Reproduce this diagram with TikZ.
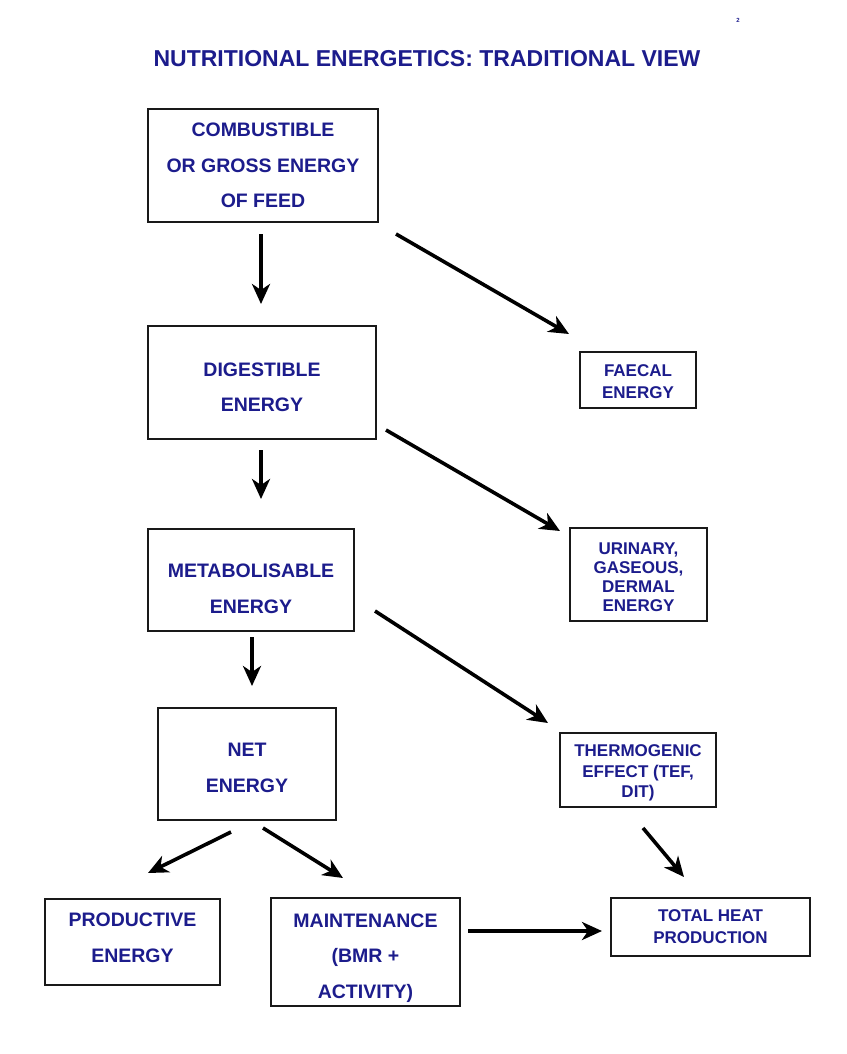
\documentclass[tikz,border=0pt]{standalone}
\usepackage{fontspec}
\setmainfont{Liberation Sans}
\usetikzlibrary{arrows.meta}
\definecolor{navy}{RGB}{28,28,140}
\tikzset{
  box/.style={draw=black!90, line width=2.7pt, fill=white, inner sep=0pt},
  bigtxt/.style={align=center, text=navy, inner sep=0pt, font=\fontsize{19.5}{35.5}\selectfont\bfseries},
  smalltxt/.style={align=center, text=navy, inner sep=0pt, font=\fontsize{17}{20.5}\selectfont\bfseries},
  flow/.style={line width=3.6pt, -{Stealth[length=20pt, width=18pt, inset=6pt]}}
}
\begin{document}
\begin{tikzpicture}[x=1pt, y=-1pt]
\useasboundingbox (0,0) rectangle (846,1054);
\node[text=navy, font=\fontsize{6}{7}\selectfont\bfseries] (pg) at (738,20) {2};
\node[text=navy, font=\fontsize{23}{27}\selectfont\bfseries] (title) at (427,58.5) {NUTRITIONAL ENERGETICS: TRADITIONAL VIEW};

\node[box, minimum width=230pt, minimum height=113pt] (gross) at (263,165.5) {};
\node[bigtxt] (grosst) at (gross.center) {COMBUSTIBLE\\OR GROSS ENERGY\\OF FEED};
\node[box, minimum width=228pt, minimum height=113pt] (dig) at (262,382.5) {};
\node[bigtxt, yshift=-5pt] (digt) at (dig.center) {DIGESTIBLE\\ENERGY};
\node[box, minimum width=206pt, minimum height=102pt] (met) at (251,580) {};
\node[bigtxt, yshift=-9pt] (mett) at (met.center) {METABOLISABLE\\ENERGY};
\node[box, minimum width=178pt, minimum height=112pt] (net) at (247,764) {};
\node[bigtxt, yshift=-4pt] (nett) at (net.center) {NET\\ENERGY};
\node[box, minimum width=175pt, minimum height=86pt] (prod) at (132.5,942) {};
\node[bigtxt, yshift=4pt] (prodt) at (prod.center) {PRODUCTIVE\\ENERGY};
\node[box, minimum width=189pt, minimum height=108pt] (maint) at (365.5,952) {};
\node[bigtxt, yshift=-6pt] (maintt) at (maint.center) {MAINTENANCE\\(BMR +\\ACTIVITY)};

\node[box, minimum width=116pt, minimum height=56pt] (faecal) at (638,380) {};
\node[smalltxt, yshift=-2pt, font=\fontsize{17}{22}\selectfont\bfseries] (faecalt) at (faecal.center) {FAECAL\\ENERGY};
\node[box, minimum width=137pt, minimum height=93pt] (urin) at (638.5,574.5) {};
\node[smalltxt, yshift=-2.5pt, font=\fontsize{17}{19}\selectfont\bfseries] (urint) at (urin.center) {URINARY,\\GASEOUS,\\DERMAL\\ENERGY};
\node[box, minimum width=156pt, minimum height=74pt] (thermo) at (638,770) {};
\node[smalltxt, yshift=-3pt] (thermot) at (thermo.center) {THERMOGENIC\\EFFECT (TEF,\\DIT)};
\node[box, minimum width=199pt, minimum height=58pt] (heat) at (710.5,927) {};
\node[smalltxt, font=\fontsize{17}{22}\selectfont\bfseries] (heatt) at (heat.center) {TOTAL HEAT\\PRODUCTION};

\coordinate (a1s) at (261,234);  \coordinate (a1e) at (261,304);
\coordinate (a2s) at (396,234);  \coordinate (a2e) at (569,334);
\coordinate (a3s) at (261,450);  \coordinate (a3e) at (261,499);
\coordinate (a4s) at (386,430);  \coordinate (a4e) at (560,531);
\coordinate (a5s) at (252,637);  \coordinate (a5e) at (252,686);
\coordinate (a6s) at (375,611);  \coordinate (a6e) at (548,723);
\coordinate (a7s) at (231,832);  \coordinate (a7e) at (148,873);
\coordinate (a8s) at (263,828);  \coordinate (a8e) at (343,878);
\coordinate (a9s) at (643,828);  \coordinate (a9e) at (684,877);
\coordinate (a10s) at (468,931); \coordinate (a10e) at (602,931);

\draw[flow] (a1s) -- (a1e);
\draw[flow] (a2s) -- (a2e);
\draw[flow] (a3s) -- (a3e);
\draw[flow] (a4s) -- (a4e);
\draw[flow] (a5s) -- (a5e);
\draw[flow] (a6s) -- (a6e);
\draw[flow] (a7s) -- (a7e);
\draw[flow] (a8s) -- (a8e);
\draw[flow] (a9s) -- (a9e);
\draw[flow] (a10s) -- (a10e);
\end{tikzpicture}
\end{document}
